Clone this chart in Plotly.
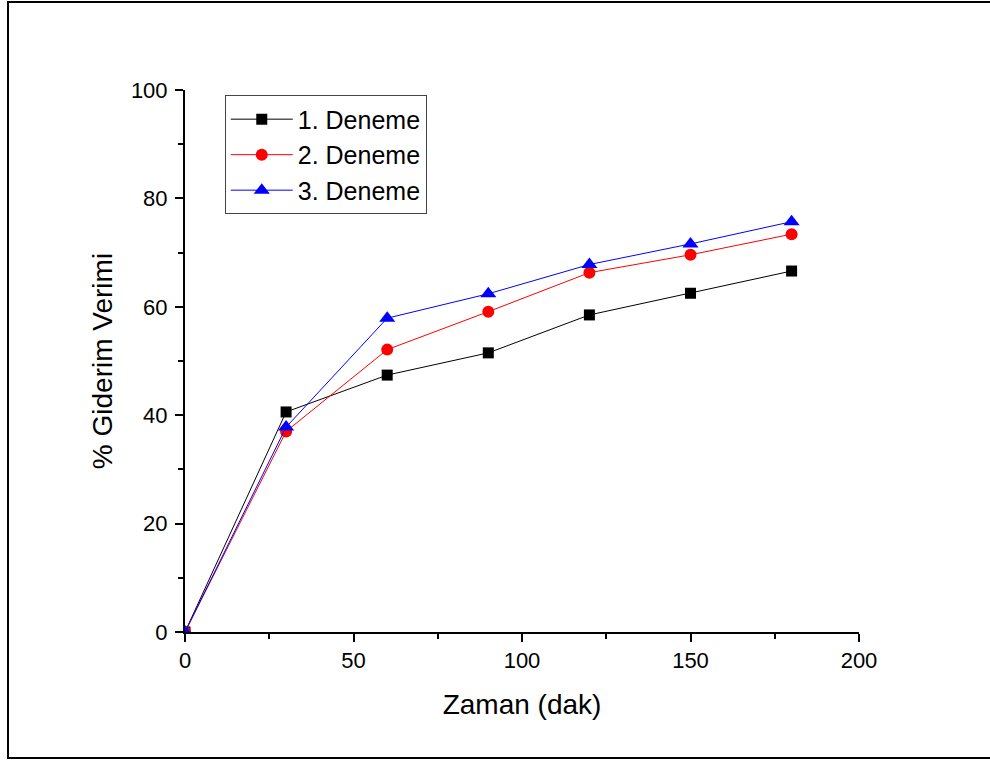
import plotly.graph_objects as go

# Time points (min) and removal efficiency (%) for the three runs
zaman = [0, 30, 60, 90, 120, 150, 180]
deneme_1 = [0, 40.6, 47.4, 51.5, 58.5, 62.5, 66.6]
deneme_2 = [0, 37.0, 52.1, 59.1, 66.3, 69.6, 73.4]
deneme_3 = [0, 37.8, 57.9, 62.4, 67.8, 71.6, 75.7]

series_names = ["1. Deneme", "2. Deneme", "3. Deneme"]
x_ticks = [0, 50, 100, 150, 200]
y_ticks = [0, 20, 40, 60, 80, 100]

FONT = "Liberation Sans, Arial, sans-serif"

fig = go.Figure()
styles = [
    ("black", "square", 11),
    ("#FF0000", "circle", 12),
    ("#0000FF", "triangle-up", 14),
]
for name, ys, (color, symbol, size) in zip(series_names, [deneme_1, deneme_2, deneme_3], styles):
    fig.add_trace(go.Scatter(
        x=zaman, y=ys, name=name, mode="lines+markers",
        line=dict(color=color, width=1),
        marker=dict(color=color, symbol=symbol, size=size, line=dict(width=0)),
        cliponaxis=True,
    ))

axis_common = dict(
    showline=True, linecolor="black", linewidth=2,
    ticks="outside", ticklen=8, tickwidth=2, tickcolor="black",
    showgrid=False, zeroline=False, mirror=False,
    tickfont=dict(family=FONT, size=22, color="black"),
)

fig.update_xaxes(
    range=[0, 200], tickvals=x_ticks,
    minor=dict(dtick=25, ticks="outside", ticklen=5, tickwidth=2, tickcolor="black", showgrid=False),
    title=dict(text="Zaman (dak)", font=dict(family=FONT, size=28, color="black"), standoff=22),
    **axis_common,
)
fig.update_yaxes(
    range=[0, 100], tickvals=y_ticks,
    minor=dict(dtick=10, ticks="outside", ticklen=5, tickwidth=2, tickcolor="black", showgrid=False),
    title=dict(text="% Giderim Verimi", font=dict(family=FONT, size=28, color="black"), standoff=10),
    ticklabelstandoff=3,
    **axis_common,
)

# Outer frame around the whole figure
fig.add_shape(
    type="rect", xref="paper", yref="paper",
    x0=-0.2626, x1=1.22, y0=-0.2325, y1=1.1624,
    line=dict(color="black", width=2), fillcolor="rgba(0,0,0,0)", layer="below",
)

fig.update_layout(
    width=990, height=760,
    margin=dict(l=185, r=131, t=90, b=128),
    paper_bgcolor="white", plot_bgcolor="white",
    font=dict(family=FONT, color="black"),
    legend=dict(
        x=0.059, y=0.99, xanchor="left", yanchor="top",
        bgcolor="white", bordercolor="#444444", borderwidth=1,
        font=dict(family=FONT, size=25, color="black"),
        tracegroupgap=0, itemwidth=62,
    ),
)

fig.write_html("out.html")
